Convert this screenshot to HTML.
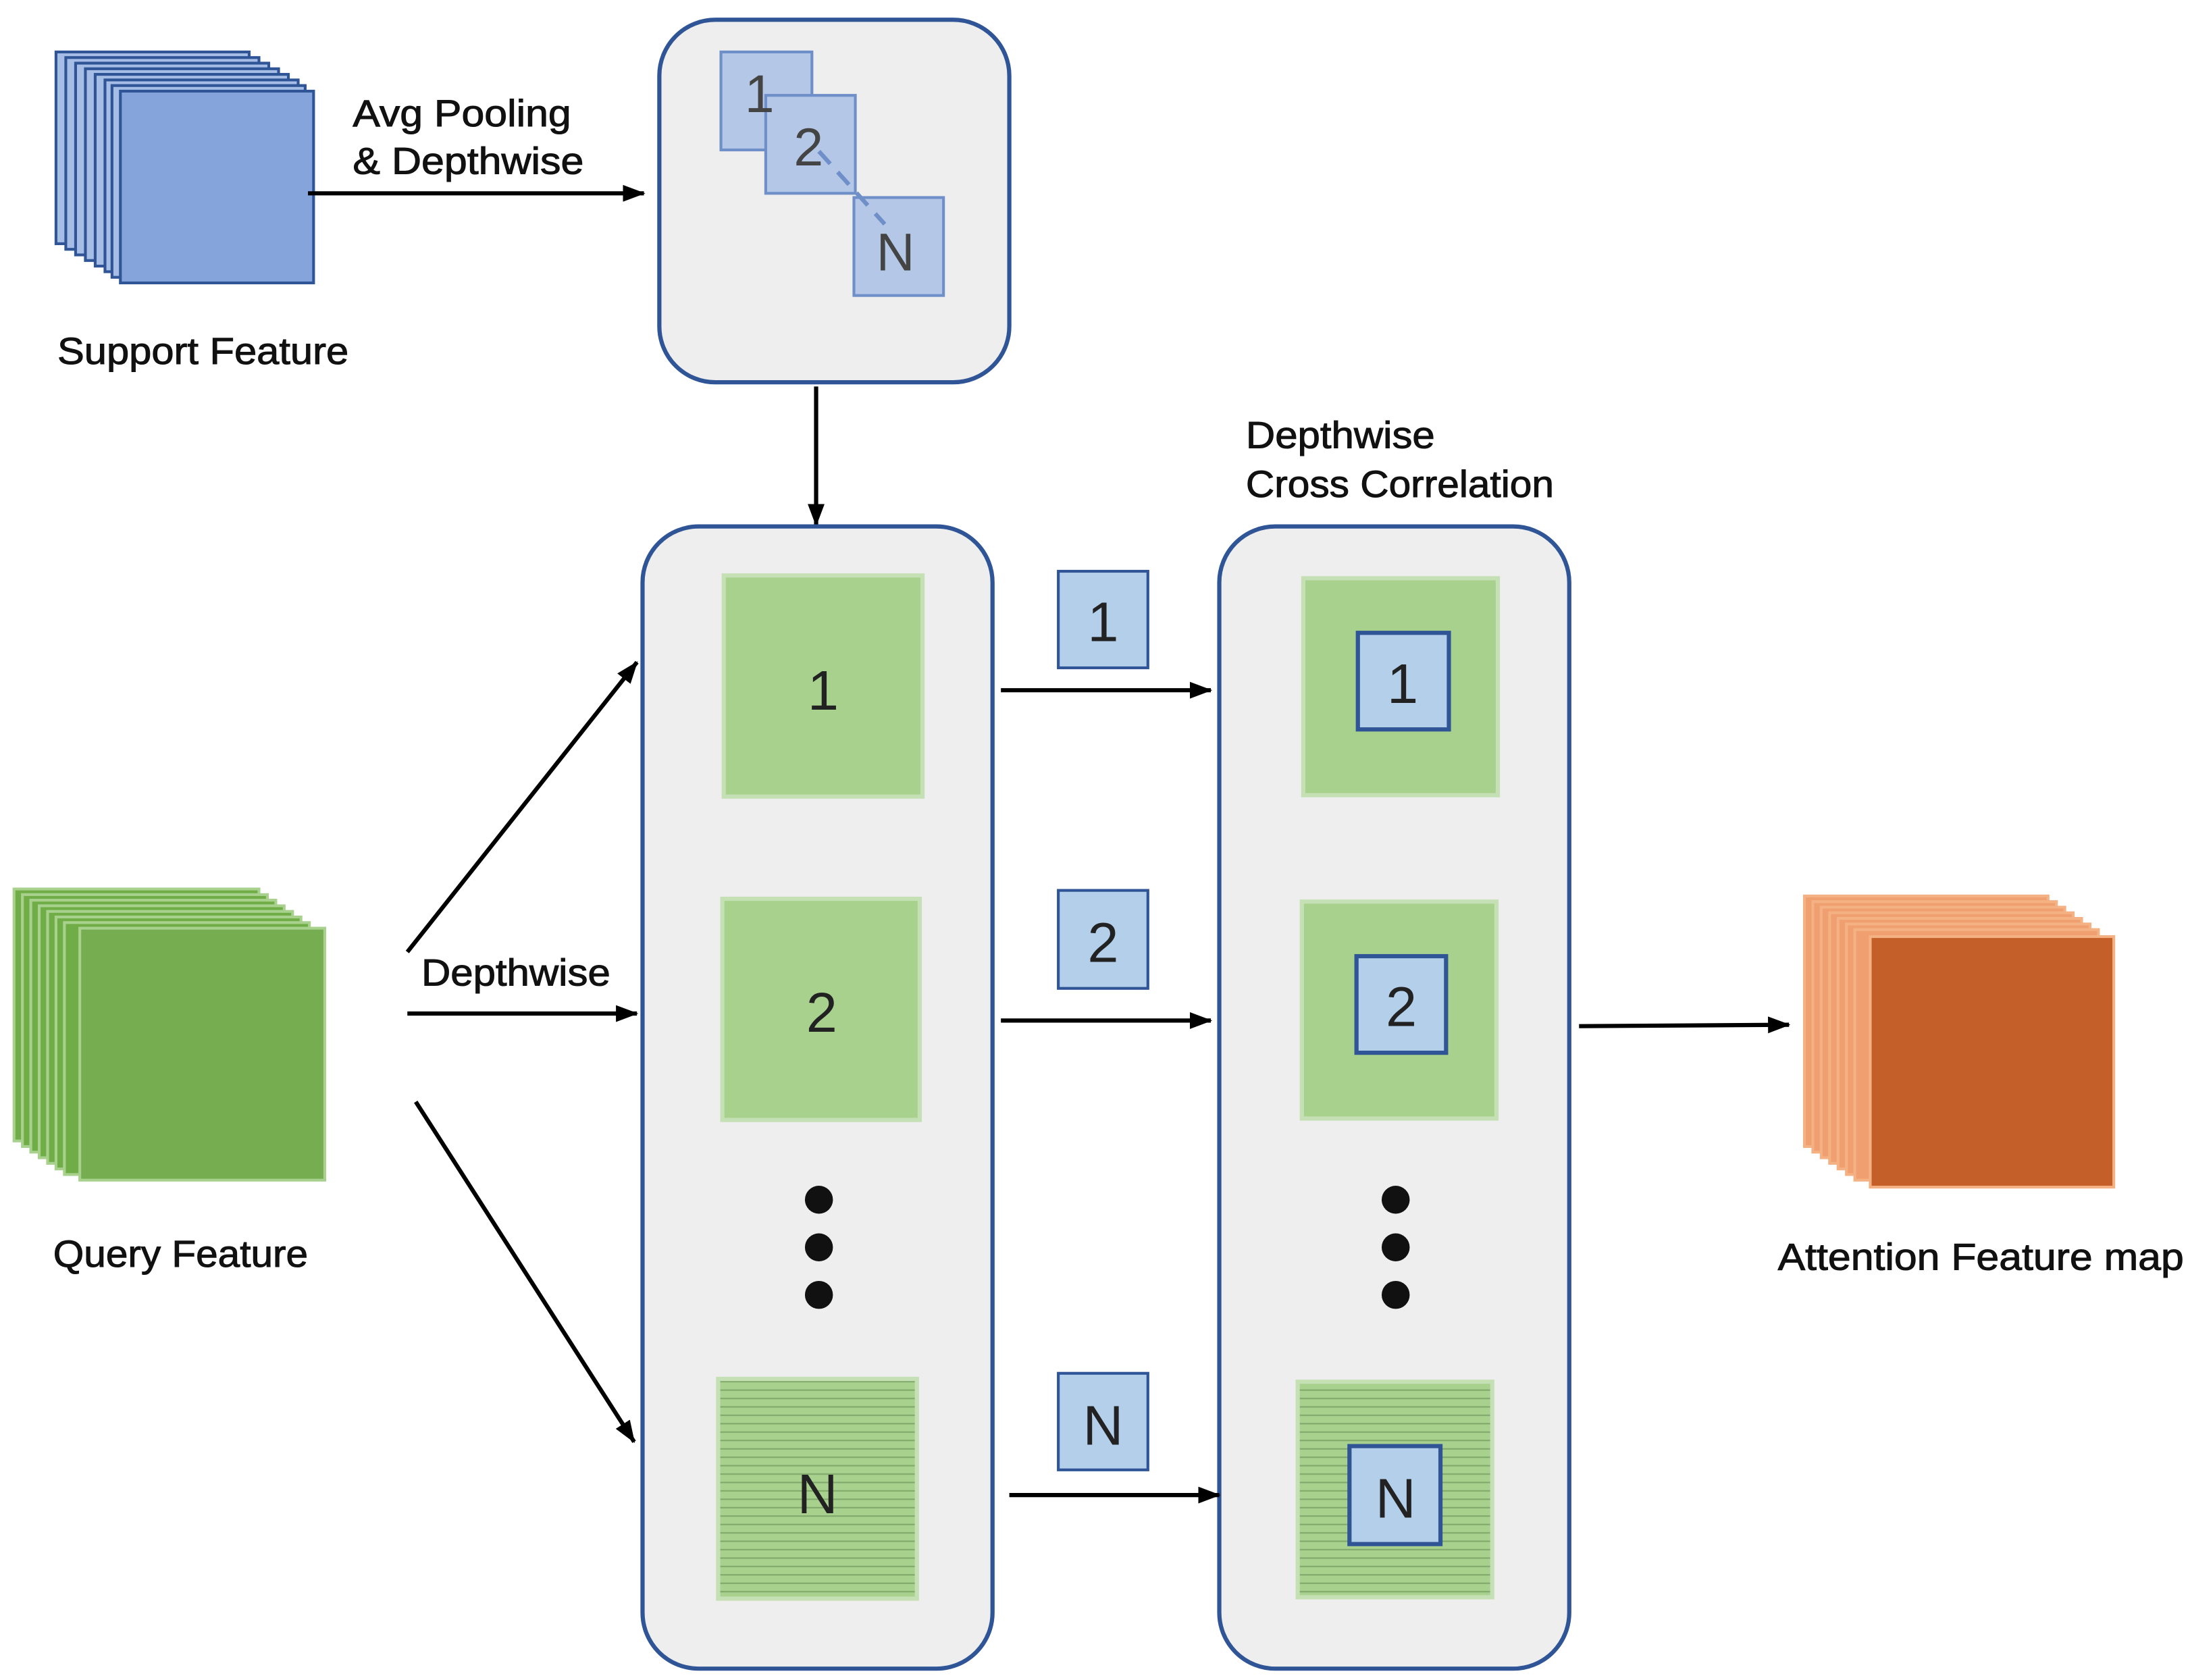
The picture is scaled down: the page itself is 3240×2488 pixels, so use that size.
<!DOCTYPE html>
<html><head><meta charset="utf-8"><style>
html,body{margin:0;padding:0;background:#fff;}
svg{display:block;}
text{font-family:"Liberation Sans","DejaVu Sans",sans-serif;}
.lb{font-size:27px;fill:#111;stroke:#111;stroke-width:0.5px;}
</style></head><body>
<svg width="3240" height="2488" viewBox="0 0 1563 1200" xmlns="http://www.w3.org/2000/svg">
<defs>
<marker id="ah" markerWidth="16" markerHeight="12" refX="15" refY="6" orient="auto" markerUnits="userSpaceOnUse">
<path d="M0,0 L16,6 L0,12 z" fill="#000"/>
</marker>
<pattern id="hl" width="6" height="6" patternUnits="userSpaceOnUse">
<rect width="6" height="6" fill="#a9d18e"/>
<line x1="0" y1="3" x2="6" y2="3" stroke="#7fa86a" stroke-width="1"/>
</pattern>
</defs>

<!-- Support feature stack -->
<g stroke="#2f5597" stroke-width="2" fill="#a6bde6">
<rect x="40" y="37" width="138" height="137"/>
<rect x="47" y="41" width="138" height="137"/>
<rect x="54" y="45" width="138" height="137"/>
<rect x="61" y="49" width="138" height="137"/>
<rect x="68" y="53" width="138" height="137"/>
<rect x="75" y="57" width="138" height="137"/>
<rect x="80" y="61" width="138" height="137"/>
<rect x="86" y="65" width="138" height="137" fill="#86a4dc"/>
</g>
<text class="lb" x="252" y="90" textLength="156" lengthAdjust="spacingAndGlyphs">Avg Pooling</text>
<text class="lb" x="252" y="124" textLength="165" lengthAdjust="spacingAndGlyphs">&amp; Depthwise</text>
<line x1="220" y1="138" x2="460" y2="138" stroke="#000" stroke-width="3" marker-end="url(#ah)"/>
<text class="lb" x="41" y="260" textLength="208" lengthAdjust="spacingAndGlyphs">Support Feature</text>

<!-- Top box -->
<rect x="471" y="14" width="250" height="259" rx="40" fill="#eeeeee" stroke="#2f5597" stroke-width="3"/>
<g fill="#b4c7e7" stroke="#6f8fc8" stroke-width="2">
<rect x="515" y="37" width="65" height="70"/>
<rect x="547" y="68" width="64" height="70"/>
<rect x="610" y="141" width="64" height="70"/>
</g>
<text x="532" y="80" font-size="38" fill="#444">1</text>
<text x="567" y="118" font-size="38" fill="#444">2</text>
<text x="626" y="193" font-size="38" fill="#444">N</text>
<line x1="585" y1="108" x2="632" y2="160" stroke="#6f8fc8" stroke-width="3" stroke-dasharray="12,8"/>
<line x1="583" y1="276" x2="583" y2="375" stroke="#000" stroke-width="3" marker-end="url(#ah)"/>

<text class="lb" x="890" y="320" textLength="135" lengthAdjust="spacingAndGlyphs">Depthwise</text>
<text class="lb" x="890" y="355" textLength="220" lengthAdjust="spacingAndGlyphs">Cross Correlation</text>

<!-- Middle box -->
<rect x="459" y="376" width="250" height="816" rx="40" fill="#eeeeee" stroke="#2f5597" stroke-width="3"/>
<g fill="#a9d18e" stroke="#c5e0b4" stroke-width="3">
<rect x="517" y="411" width="142" height="158"/>
<rect x="516" y="642" width="141" height="158"/>
<rect x="513" y="985" width="142" height="157" fill="url(#hl)"/>
</g>
<text x="588" y="507" font-size="40" text-anchor="middle" fill="#222">1</text>
<text x="587" y="737" font-size="40" text-anchor="middle" fill="#222">2</text>
<text x="584" y="1081" font-size="40" text-anchor="middle" fill="#222">N</text>
<circle cx="585" cy="857" r="10" fill="#111"/>
<circle cx="585" cy="891" r="10" fill="#111"/>
<circle cx="585" cy="925" r="10" fill="#111"/>

<!-- Right box -->
<rect x="871" y="376" width="250" height="816" rx="40" fill="#eeeeee" stroke="#2f5597" stroke-width="3"/>
<g fill="#a9d18e" stroke="#c5e0b4" stroke-width="3">
<rect x="931" y="413" width="139" height="155"/>
<rect x="930" y="644" width="139" height="155"/>
<rect x="927" y="987" width="139" height="154" fill="url(#hl)"/>
</g>
<g fill="#b4cfea" stroke="#2f5597" stroke-width="3">
<rect x="970" y="452" width="65" height="69"/>
<rect x="969" y="683" width="64" height="69"/>
<rect x="964" y="1033" width="65" height="70"/>
</g>
<text x="1002" y="502" font-size="40" text-anchor="middle" fill="#222">1</text>
<text x="1001" y="733" font-size="40" text-anchor="middle" fill="#222">2</text>
<text x="997" y="1084" font-size="40" text-anchor="middle" fill="#222">N</text>
<circle cx="997" cy="857" r="10" fill="#111"/>
<circle cx="997" cy="891" r="10" fill="#111"/>
<circle cx="997" cy="925" r="10" fill="#111"/>

<!-- small blue between -->
<g fill="#b4cfea" stroke="#2f5597" stroke-width="2">
<rect x="756" y="408" width="64" height="69"/>
<rect x="756" y="636" width="64" height="70"/>
<rect x="756" y="981" width="64" height="69"/>
</g>
<text x="788" y="458" font-size="40" text-anchor="middle" fill="#222">1</text>
<text x="788" y="687" font-size="40" text-anchor="middle" fill="#222">2</text>
<text x="788" y="1032" font-size="40" text-anchor="middle" fill="#222">N</text>
<g stroke="#000" stroke-width="3" marker-end="url(#ah)">
<line x1="715" y1="493" x2="865" y2="493"/>
<line x1="715" y1="729" x2="865" y2="729"/>
<line x1="721" y1="1068" x2="871" y2="1068"/>
<line x1="291" y1="680" x2="455" y2="473"/>
<line x1="291" y1="724" x2="455" y2="724"/>
<line x1="297" y1="787" x2="453" y2="1030"/>
<line x1="1128" y1="733" x2="1278" y2="732"/>
</g>
<text class="lb" x="301" y="704" textLength="135" lengthAdjust="spacingAndGlyphs">Depthwise</text>

<!-- Query stack -->
<g stroke="#a9d18e" stroke-width="2" fill="#70ad47">
<rect x="10" y="635" width="175" height="180"/>
<rect x="16" y="639" width="175" height="180"/>
<rect x="22" y="643" width="175" height="180"/>
<rect x="28" y="647" width="175" height="180"/>
<rect x="34" y="651" width="175" height="180"/>
<rect x="40" y="655" width="175" height="180"/>
<rect x="46" y="659" width="175" height="180"/>
<rect x="57" y="663" width="175" height="180" fill="#75ad50"/>
</g>
<text class="lb" x="38" y="905" textLength="182" lengthAdjust="spacingAndGlyphs">Query Feature</text>

<!-- Attention stack -->
<g stroke="#f4b183" stroke-width="2" fill="#f0a070">
<rect x="1289" y="640" width="174" height="179"/>
<rect x="1295" y="644" width="174" height="179"/>
<rect x="1301" y="648" width="174" height="179"/>
<rect x="1307" y="652" width="174" height="179"/>
<rect x="1313" y="656" width="174" height="179"/>
<rect x="1319" y="660" width="174" height="179"/>
<rect x="1325" y="664" width="174" height="179"/>
<rect x="1336" y="669" width="174" height="179" fill="#c55f2a"/>
</g>
<text class="lb" x="1270" y="907" textLength="290" lengthAdjust="spacingAndGlyphs">Attention Feature map</text>
</svg>
</body></html>
